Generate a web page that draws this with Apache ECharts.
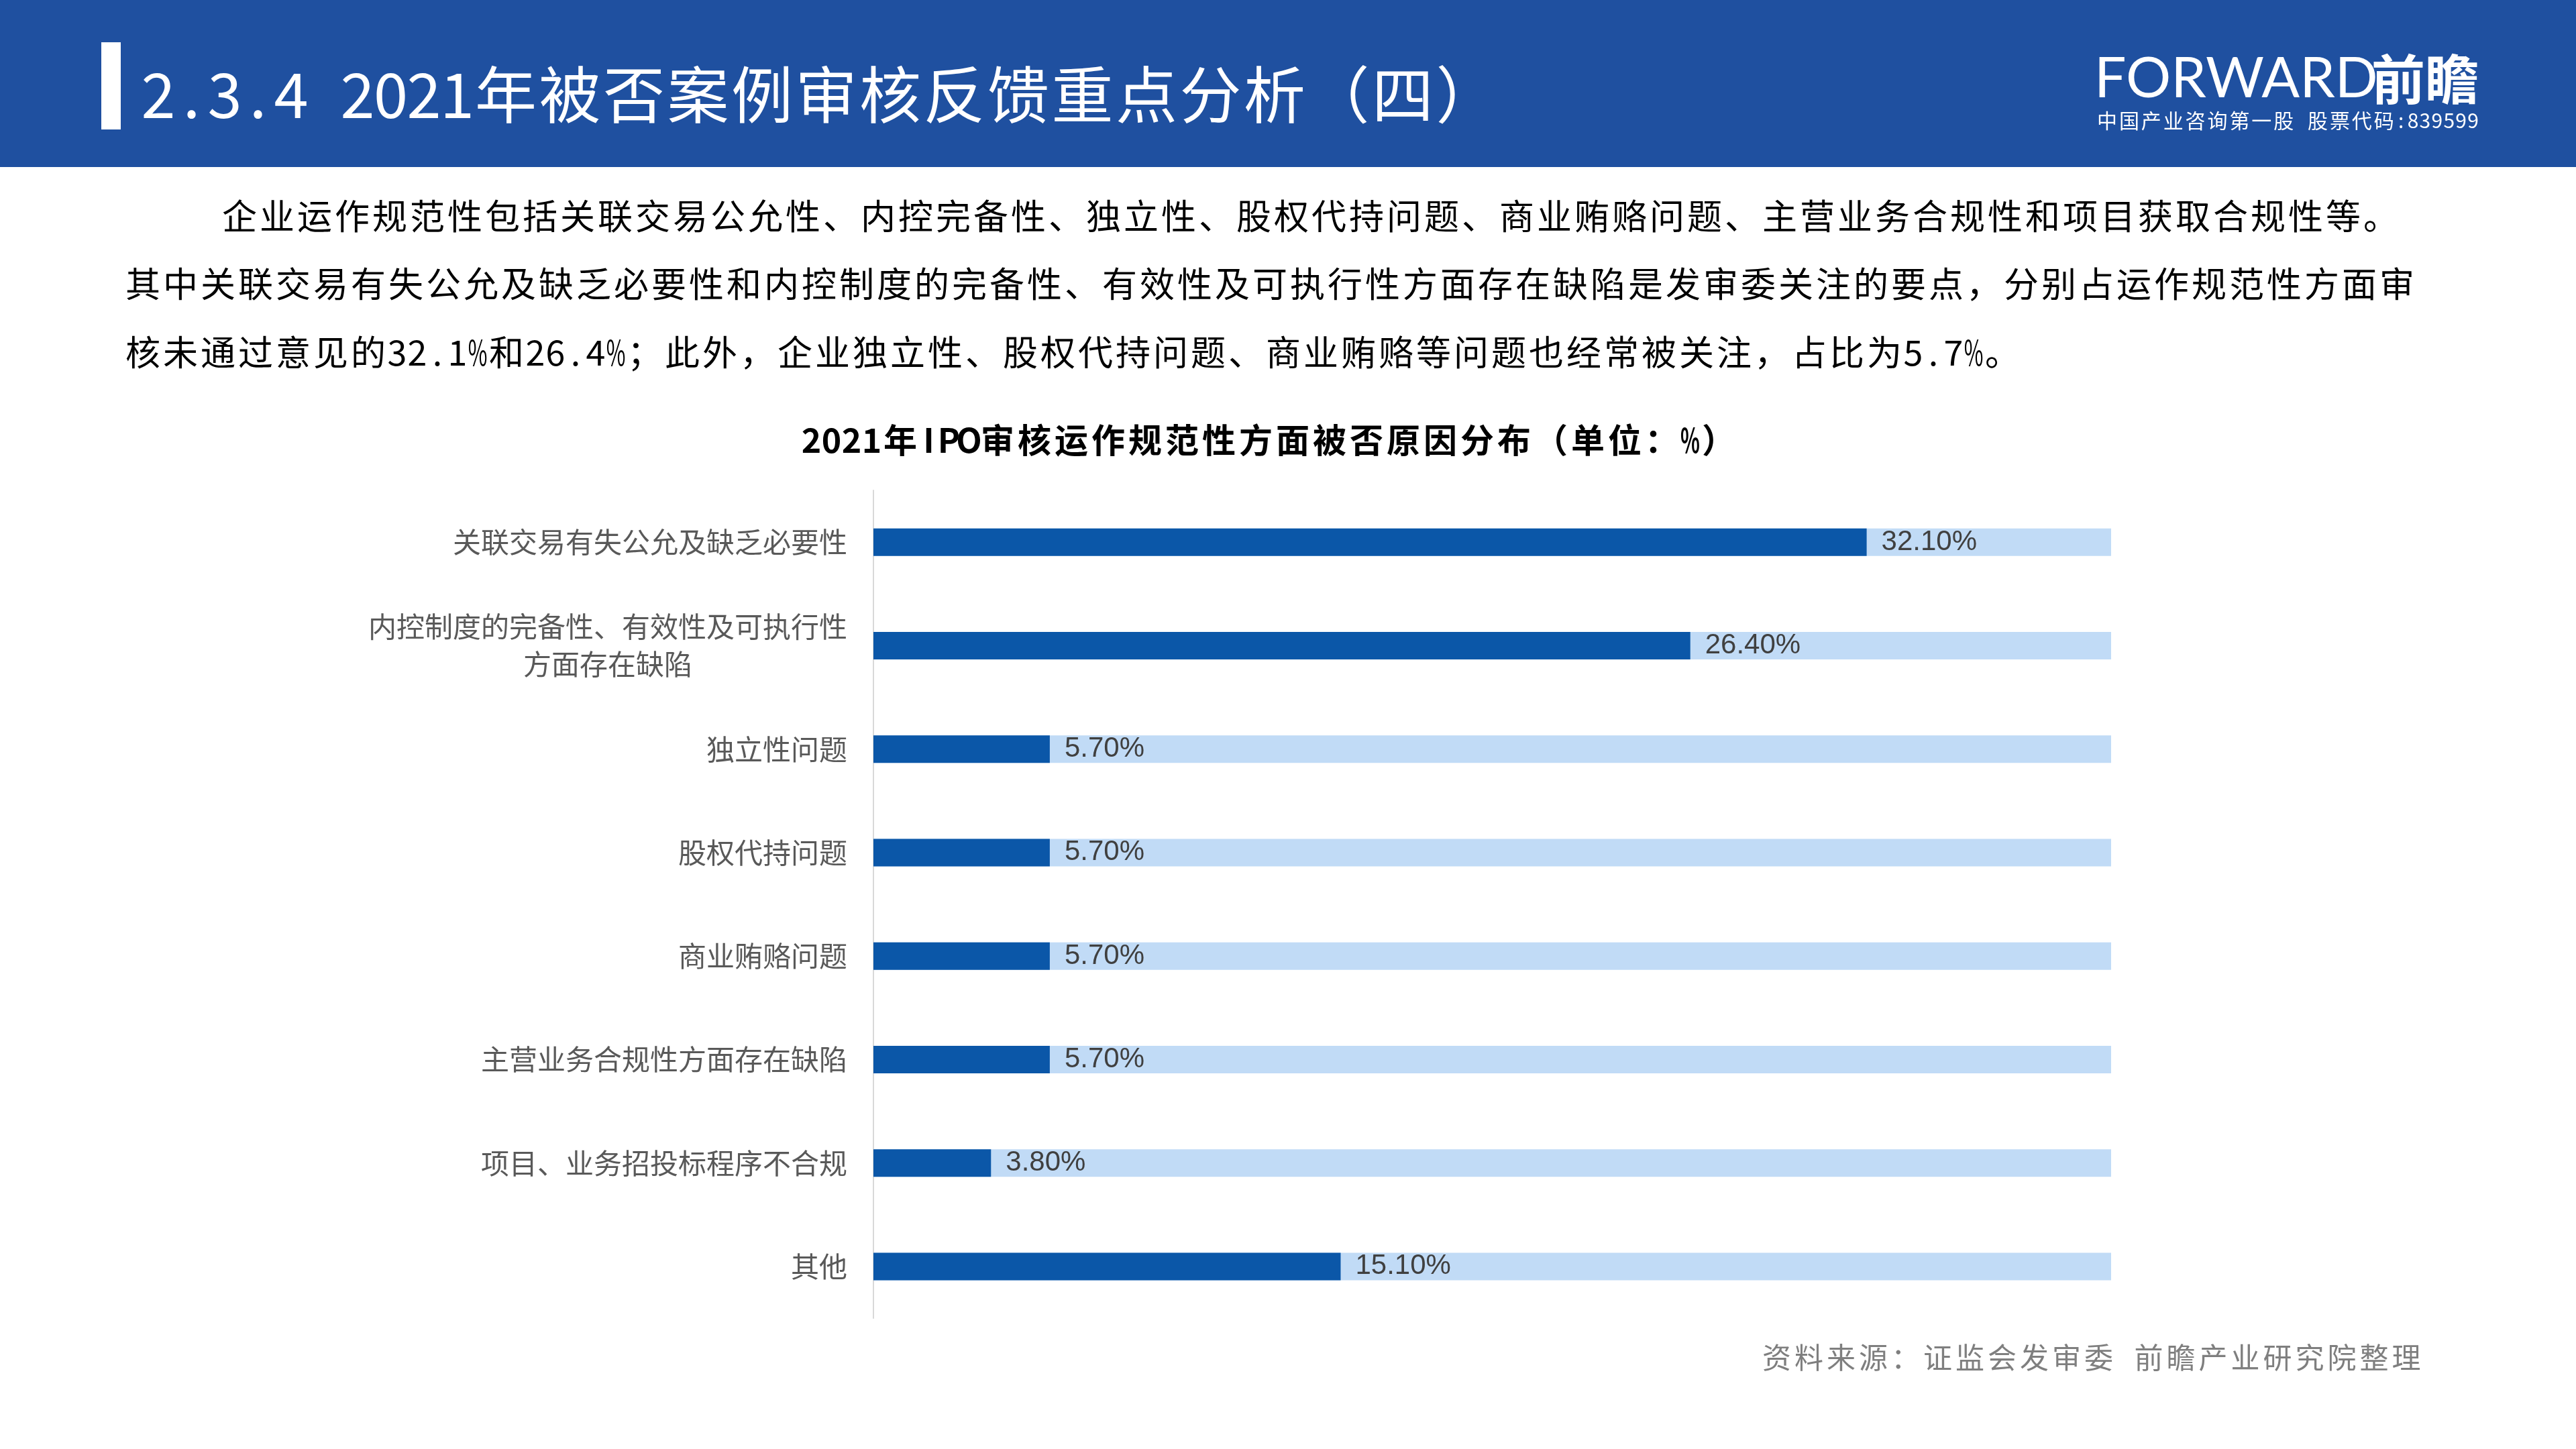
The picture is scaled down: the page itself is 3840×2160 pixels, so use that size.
<!DOCTYPE html>
<html>
<head>
<meta charset="utf-8">
<script src="https://cdn.jsdelivr.net/npm/echarts@6/dist/echarts.min.js"></script>
<style>
html,body{margin:0;padding:0;background:#fff;}
#c{width:3840px;height:2160px;}
</style>
</head>
<body>
<div id="c"></div>
<script>
// ---- data ----
const categories = [
  '关联交易有失公允及缺乏必要性',
  '内控制度的完备性、有效性及可执行性\n方面存在缺陷',
  '独立性问题',
  '股权代持问题',
  '商业贿赂问题',
  '主营业务合规性方面存在缺陷',
  '项目、业务招投标程序不合规',
  '其他'
];
const values = [32.1, 26.4, 5.7, 5.7, 5.7, 5.7, 3.8, 15.1];
const axisMax = 40;

const headerTitle = '2.3.4 2021年被否案例审核反馈重点分析（四）';
const logoMain = 'FORWARD';
const logoCn = '前瞻';
const logoSub = '中国产业咨询第一股 股票代码:839599';
const paragraphLines = [
  '企业运作规范性包括关联交易公允性、内控完备性、独立性、股权代持问题、商业贿赂问题、主营业务合规性和项目获取合规性等。',
  '其中关联交易有失公允及缺乏必要性和内控制度的完备性、有效性及可执行性方面存在缺陷是发审委关注的要点，分别占运作规范性方面审',
  '核未通过意见的32.1%和26.4%；此外，企业独立性、股权代持问题、商业贿赂等问题也经常被关注，占比为5.7%。'
];
const chartTitle = '2021年IPO审核运作规范性方面被否原因分布（单位：%）';
const sourceText = '资料来源：证监会发审委 前瞻产业研究院整理';

const CJK = '"Noto Sans CJK SC", "Noto Sans", sans-serif';

// fixed-cell text layout (half cells for ASCII, full cells for CJK)
function cellWidth(str, F, s) {
  let w = 0;
  for (const ch of str) {
    const full = /[^\x00-\x7F]/.test(ch);
    w += (full ? F : F / 2) + s;
  }
  return w - s;
}
function spacedText(str, x, y, F, s, fill, weight) {
  const out = [];
  let cx = x;
  for (const ch of str) {
    const full = /[^\x00-\x7F]/.test(ch);
    const cw = full ? F : F / 2;
    if (ch !== ' ') {
      const el = {
        type: 'text', x: cx + cw / 2, y: y, silent: true,
        style: { text: ch, fontSize: F, fontFamily: CJK, fill: fill,
                 fontWeight: weight || 'normal', align: 'center', verticalAlign: 'middle' }
      };
      if (ch === '%') { el.scaleX = 0.6; }
      out.push(el);
    }
    cx += cw + s;
  }
  return out;
}

const graphics = [];
// header band
graphics.push({ type: 'rect', shape: { x: 0, y: 0, width: 3840, height: 249 }, style: { fill: '#1F50A0' }, silent: true, z: 0 });
graphics.push({ type: 'rect', shape: { x: 151, y: 63, width: 29, height: 130 }, style: { fill: '#FFFFFF' }, silent: true });
graphics.push(...spacedText(headerTitle, 213, 141, 92, 3.5, '#FFFFFF'));
// logo
graphics.push({ type: 'text', x: 3122, y: 118, silent: true,
  style: { text: logoMain, fontSize: 84, fontFamily: 'Lato, "Open Sans", sans-serif', fill: '#FFFFFF', align: 'left', verticalAlign: 'middle' } });
graphics.push({ type: 'text', x: 3695, y: 118, silent: true,
  style: { text: logoCn, fontSize: 80, fontWeight: 'bold', fontFamily: CJK, fill: '#FFFFFF', align: 'right', verticalAlign: 'middle' } });
graphics.push(...spacedText(logoSub, 3126, 180, 30, 2.9, '#FFFFFF'));
// paragraph
graphics.push(...spacedText(paragraphLines[0], 331, 322, 52, 4, '#000000'));
graphics.push(...spacedText(paragraphLines[1], 187, 423, 52, 4, '#000000'));
graphics.push(...spacedText(paragraphLines[2], 187, 525, 52, 4, '#000000'));
// chart title
{
  const F = 50, s = 5;
  const w = cellWidth(chartTitle, F, s);
  graphics.push(...spacedText(chartTitle, 1892 - w / 2, 656, F, s, '#000000', 'bold'));
}
// source
graphics.push(...spacedText(sourceText, 2627, 2024, 43, 5, '#7F7F7F'));

const chart = echarts.init(document.getElementById('c'), null, { renderer: 'canvas' });
chart.setOption({
  backgroundColor: '#FFFFFF',
  animation: false,
  grid: { left: 1302, right: 693, top: 731, bottom: 195, containLabel: false },
  xAxis: { type: 'value', min: 0, max: axisMax, show: false, splitLine: { show: false } },
  yAxis: {
    type: 'category', data: categories, inverse: true,
    axisLine: { show: true, lineStyle: { color: '#D9D9D9', width: 2 } },
    axisTick: { show: false },
    axisLabel: {
      margin: 39, fontSize: 42, color: '#595959', fontFamily: CJK, align: 'right',
      lineHeight: 56,
      formatter: function (v) {
        const parts = v.split('\n');
        if (parts.length > 1) {
          return '{a|' + parts[0] + '}\n{c|' + parts[1] + '}';
        }
        return v;
      },
      rich: {
        a: { fontSize: 42, color: '#595959', fontFamily: CJK, align: 'right', lineHeight: 56 },
        c: { fontSize: 42, color: '#595959', fontFamily: CJK, align: 'center', lineHeight: 56 }
      }
    }
  },
  series: [{
    type: 'bar', data: values, barWidth: 41,
    itemStyle: { color: '#0B57A8' },
    showBackground: true,
    backgroundStyle: { color: '#C1DBF6' },
    label: {
      show: true, position: 'right', distance: 22,
      fontSize: 42, color: '#404040', fontFamily: '"Liberation Sans", Arial, sans-serif',
      formatter: function (p) { return p.value.toFixed(2) + '%'; }
    }
  }],
  graphic: graphics
});
</script>
</body>
</html>
